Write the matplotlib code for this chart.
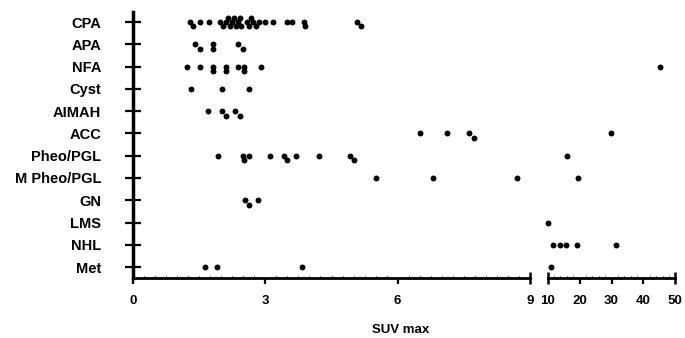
import matplotlib
matplotlib.use("Agg")
import matplotlib.pyplot as plt
import numpy as np

categories = ["CPA", "APA", "NFA", "Cyst", "AIMAH", "ACC", "Pheo/PGL",
              "M Pheo/PGL", "GN", "LMS", "NHL", "Met"]

suv_values = {
    "CPA": [1.30, 1.35, 1.52, 1.72, 1.98, 2.05, 2.10, 2.15, 2.20, 2.25, 2.28,
            2.33, 2.38, 2.42, 2.45, 2.58, 2.62, 2.68, 2.72, 2.78, 2.85, 3.00,
            3.18, 3.48, 3.60, 3.87, 3.90, 5.08, 5.18],
    "APA": [1.41, 1.51, 1.81, 1.81, 2.39, 2.50],
    "NFA": [1.22, 1.52, 1.81, 1.81, 2.11, 2.11, 2.39, 2.52, 2.52, 2.91, 45.2],
    "Cyst": [1.31, 2.02, 2.62],
    "AIMAH": [1.71, 2.02, 2.11, 2.32, 2.42],
    "ACC": [6.51, 7.11, 7.62, 7.72, 29.8],
    "Pheo/PGL": [1.92, 2.50, 2.52, 2.62, 3.11, 3.42, 3.49, 3.70, 4.21, 4.91,
                 5.01, 16.1],
    "M Pheo/PGL": [5.51, 6.80, 8.71, 19.4],
    "GN": [2.53, 2.62, 2.83],
    "LMS": [10.2],
    "NHL": [11.6, 13.9, 15.7, 19.2, 31.4],
    "Met": [1.64, 1.91, 3.82, 11.0],
}

left_ticks = [0, 3, 6, 9]
right_ticks = [10, 20, 30, 40, 50]

FONT = "Liberation Sans"

fig = plt.figure(figsize=(6.85, 3.38), dpi=100)
W, H = 685, 338
y_bot, y_top = 278, 12
ax1 = fig.add_axes([133 / W, 1 - y_bot / H, (530 - 133) / W, (y_bot - y_top) / H])
ax2 = fig.add_axes([547.7 / W, 1 - y_bot / H, (675.3 - 547.7) / W, (y_bot - y_top) / H])

ylim = (len(categories) - 0.51, -0.45)
for ax in (ax1, ax2):
    ax.set_ylim(*ylim)
    ax.set_facecolor("none")
    for s in ("top", "right"):
        ax.spines[s].set_visible(False)
    ax.spines["bottom"].set_linewidth(2.0)
    ax.tick_params(axis="x", direction="out", length=4, width=1.6,
                   labelsize=9.5, pad=8)

ax1.set_xlim(0, 9)
ax2.set_xlim(10, 50)
ax1.set_xticks(left_ticks)
ax2.set_xticks(right_ticks)
ax1.set_xticks(np.arange(0, 9.01, 0.25), minor=True)
ax2.set_xticks(np.arange(10, 50.01, 2), minor=True)
for ax in (ax1, ax2):
    ax.tick_params(axis="x", which="minor", direction="in", length=1.5, width=0.8)
    for lab in ax.get_xticklabels():
        lab.set_fontfamily(FONT)
        lab.set_fontweight("bold")

# y axis on ax1
ax1.spines["left"].set_linewidth(2.5)
ax1.set_yticks(range(len(categories)))
ax1.set_yticklabels(categories)
ax1.tick_params(axis="y", direction="inout", length=11, width=1.6, pad=17.5)
for lab in ax1.get_yticklabels():
    lab.set_fontfamily(FONT)
    lab.set_fontweight("bold")
    lab.set_fontsize(10.5)
ax2.spines["left"].set_visible(False)
ax2.set_yticks([])

# crossing end ticks at 9, 10 and 50
fig.canvas.draw()
for ax, vals in ((ax1, [9]), (ax2, [10, 50])):
    for t in ax.xaxis.get_major_ticks():
        if t.get_loc() in vals:
            t.tick1line.set_marker("|")
            t.tick1line.set_markersize(9)
            t.tick1line.set_markeredgewidth(1.8)

def dodge(ax, xs, r=5.0, step=0.2):
    pts = ax.transData.transform(np.column_stack([xs, np.zeros(len(xs))]))[:, 0]
    order = np.argsort(xs)
    placed = []
    offs = np.zeros(len(xs))
    for i in order:
        best, best_d = 0, -1
        for lvl in (0, 1, -1):
            d = min([abs(pts[i] - p) for p, l in placed if l == lvl] or [1e9])
            if d >= r:
                best = lvl
                break
            if d > best_d:
                best, best_d = lvl, d
        placed.append((pts[i], best))
        offs[i] = best * step
    return offs

for row, cat in enumerate(categories):
    vals = np.array(suv_values[cat])
    for ax, mask in ((ax1, vals <= 9), (ax2, vals >= 10)):
        xs = vals[mask]
        if len(xs) == 0:
            continue
        offs = dodge(ax, xs)
        ax.scatter(xs, row + offs, s=18, color="black", zorder=3,
                   clip_on=False, linewidths=0)

fig.text(0.585, 1 - 330 / H, "SUV max", ha="center", va="center",
         fontsize=9.5, fontfamily=FONT, fontweight="bold")

fig.savefig("out.png", dpi=100)
